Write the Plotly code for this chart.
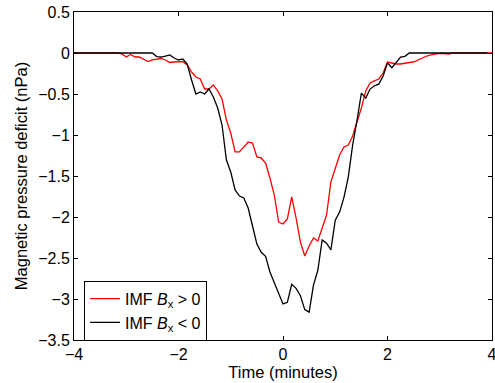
import plotly.graph_objects as go

# Sampling: 5-second cadence from -4 to +4 minutes
SAMPLE_SECONDS = 5
N_SAMPLES = 97
time_min = [(-240 + i * SAMPLE_SECONDS) / 60 for i in range(N_SAMPLES)]

bx_pos = [0, 0, 0, 0, 0, 0, 0, 0, 0, 0, 0,
          -0.012, -0.049, -0.018, -0.049, -0.049, -0.073, -0.104, -0.085, -0.077, -0.067,
          -0.085, -0.116, -0.110, -0.106, -0.106, -0.146, -0.232, -0.293, -0.317, -0.439,
          -0.439, -0.390, -0.463, -0.561, -0.817, -0.976, -1.207, -1.207, -1.146, -1.085,
          -1.098, -1.268, -1.280, -1.341, -1.524, -1.732, -2.061, -2.085, -2.024, -1.756,
          -2.012, -2.305, -2.476, -2.354, -2.256, -2.293, -2.134, -1.976, -1.573, -1.402,
          -1.244, -1.146, -1.122, -1.012, -0.854, -0.671, -0.463, -0.366, -0.341, -0.317,
          -0.244, -0.110, -0.122, -0.134, -0.134, -0.122, -0.116, -0.110, -0.085, -0.061,
          -0.037, -0.024, -0.012, -0.004, -0.006, -0.012,
          0, 0, 0, 0, 0, 0, 0, 0, 0, 0]

bx_neg = [0, 0, 0, 0, 0, 0, 0, 0, 0, 0, 0, 0, 0, 0, 0, 0, 0, 0, 0,
          -0.043, -0.049, -0.037, -0.024, -0.061, -0.085, -0.073, -0.134, -0.329, -0.500,
          -0.476, -0.500, -0.439, -0.537, -0.671, -0.878, -1.305, -1.451, -1.670, -1.744,
          -1.768, -1.890, -2.110, -2.330, -2.430, -2.480, -2.670, -2.800, -2.950, -3.060,
          -3.040, -2.820, -2.870, -2.960, -3.130, -3.160, -2.830, -2.650, -2.280, -2.320,
          -2.400, -2.040, -1.940, -1.760, -1.510, -1.120, -0.820, -0.490, -0.550, -0.440,
          -0.400, -0.380, -0.280, -0.120, -0.180, -0.120, -0.050, -0.040,
          0, 0, 0, 0, 0, 0, 0, 0, 0, 0, 0, 0, 0, 0, 0, 0, 0, 0, 0]

y_ticks = [0.5, 0, -0.5, -1, -1.5, -2, -2.5, -3, -3.5]
x_ticks = [-4, -2, 0, 2, 4]

FONT = "Liberation Sans, Arial, Helvetica, sans-serif"
TICK_SIZE = 16
TITLE_SIZE = 16.5

fig = go.Figure()
fig.add_trace(go.Scatter(x=time_min, y=bx_pos, mode="lines",
                         line=dict(color="#ff0000", width=1.3),
                         name="IMF <i>B</i><sub>x</sub> > 0"))
fig.add_trace(go.Scatter(x=time_min, y=bx_neg, mode="lines",
                         line=dict(color="#000000", width=1.3),
                         name="IMF <i>B</i><sub>x</sub> < 0"))

axis_common = dict(showline=True, linecolor="black", linewidth=1, mirror="ticks",
                   ticks="inside", ticklen=4, tickcolor="black", tickwidth=1,
                   showgrid=False, zeroline=False, automargin=False,
                   ticklabeloverflow="allow",
                   tickfont=dict(family=FONT, size=TICK_SIZE, color="black"))

fig.update_xaxes(range=[-4, 4], tickvals=x_ticks, ticklabelstandoff=0,
                 title=dict(text="Time (minutes)", standoff=2,
                            font=dict(family=FONT, size=TITLE_SIZE, color="black")),
                 **axis_common)
fig.update_yaxes(range=[-3.5, 0.5], tickvals=y_ticks,
                 title=dict(text="Magnetic pressure deficit (nPa)", standoff=6,
                            font=dict(family=FONT, size=TITLE_SIZE, color="black")),
                 **axis_common)

fig.update_layout(
    width=495, height=383,
    margin=dict(l=74, r=3, t=12, b=43),
    plot_bgcolor="white", paper_bgcolor="white",
    font=dict(family=FONT, size=TICK_SIZE, color="black"),
    legend=dict(x=0.024, y=0.181, xanchor="left", yanchor="top",
                bordercolor="black", borderwidth=1, bgcolor="white",
                font=dict(family=FONT, size=16, color="black"),
                tracegroupgap=0, itemwidth=30),
    showlegend=True,
)

fig.write_html("out.html", config={"displayModeBar": False},
               post_script="document.body.style.margin='0';document.body.style.padding='0';")
